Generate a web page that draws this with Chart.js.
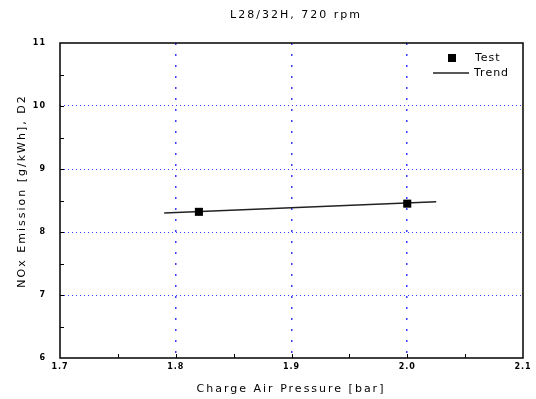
<!DOCTYPE html>
<html>
<head>
<meta charset="utf-8">
<script src="https://cdn.jsdelivr.net/npm/chart.js@4"></script>
<style>
  html, body { margin: 0; padding: 0; background: #fff; }
  #wrap { width: 536px; height: 399px; }
</style>
</head>
<body>
<div id="wrap"><canvas id="myChart" width="536" height="399"></canvas></div>
<script>
// data
var chartTitle = 'L28/32H, 720 rpm';
var xTitle = 'Charge Air Pressure [bar]';
var yTitle = 'NOx Emission [g/kWh], D2';
var testX = [1.82, 2.00];
var testY = [8.32, 8.45];
var trendX = [1.79, 2.025];
var trendY = [8.30, 8.48];
var xMin = 1.7, xMax = 2.1, xStep = 0.1, xMinor = 0.05;
var yMin = 6, yMax = 11, yStep = 1, yMinor = 0.5;

var FONT = 'DejaVu Sans';

function pts(xs, ys) {
    return xs.map(function (x, i) { return { x: x, y: ys[i] }; });
}

// frame, inner ticks, titles and legend
var decor = {
    id: 'decor',
    beforeDraw: function (chart) {
        chart.ctx.letterSpacing = '1px';
    },
    afterDraw: function (chart) {
        var ctx = chart.ctx;
        var a = chart.chartArea;
        var xs = chart.scales.x, ys = chart.scales.y;
        ctx.save();
        ctx.strokeStyle = '#000';
        ctx.lineWidth = 1;
        // inner ticks
        ctx.beginPath();
        for (var v = xMin + xMinor; v < xMax - 1e-6; v += xMinor) {
            var px = Math.round(xs.getPixelForValue(v)) + 0.5;
            ctx.moveTo(px, a.bottom);
            ctx.lineTo(px, a.bottom - 4);
        }
        for (var w = yMin + yMinor; w < yMax - 1e-6; w += yMinor) {
            var py = Math.round(ys.getPixelForValue(w)) + 0.5;
            ctx.moveTo(a.left, py);
            ctx.lineTo(a.left + 4, py);
        }
        ctx.stroke();
        // frame
        ctx.lineWidth = 1.5;
        ctx.strokeRect(a.left, a.top, a.right - a.left, a.bottom - a.top);

        ctx.fillStyle = '#000';
        ctx.textAlign = 'center';
        ctx.textBaseline = 'middle';
        ctx.letterSpacing = '2px';
        ctx.font = '11px "' + FONT + '"';
        // chart title
        ctx.fillText(chartTitle, 296, 15);
        // axis titles
        ctx.fillText(xTitle, 291, 389);
        ctx.save();
        ctx.translate(22, 191);
        ctx.rotate(-Math.PI / 2);
        ctx.fillText(yTitle, 0, 0);
        ctx.restore();

        // legend
        ctx.letterSpacing = '1px';
        ctx.textAlign = 'left';
        ctx.font = '11px "' + FONT + '"';
        ctx.fillRect(448, 54, 8, 8);
        ctx.fillText('Test', 475, 58);
        ctx.strokeStyle = '#222';
        ctx.lineWidth = 1.5;
        ctx.beginPath();
        ctx.moveTo(433, 73);
        ctx.lineTo(469, 73);
        ctx.stroke();
        ctx.fillText('Trend', 474, 73);
        ctx.restore();
    }
};

function gridColor(c) {
    if (c.index === 0 || c.index === c.chart.scales[c.scale.id].ticks.length - 1) return 'rgba(0,0,0,0)';
    return '#3a3aff';
}

var myChart = new Chart(document.getElementById('myChart'), {
    type: 'scatter',
    data: {
        datasets: [
            {
                label: 'Test',
                data: pts(testX, testY),
                showLine: false,
                pointStyle: 'rect',
                pointRadius: 5.7,
                pointBorderWidth: 0,
                backgroundColor: '#000',
                borderColor: '#000'
            },
            {
                label: 'Trend',
                data: pts(trendX, trendY),
                showLine: true,
                pointRadius: 0,
                borderColor: '#222',
                borderWidth: 1.5
            }
        ]
    },
    options: {
        responsive: false,
        animation: false,
        events: [],
        layout: { padding: { top: 43, right: 13, left: 0, bottom: 0 } },
        plugins: {
            legend: { display: false },
            tooltip: { enabled: false }
        },
        scales: {
            x: {
                type: 'linear',
                min: xMin,
                max: xMax,
                afterFit: function (s) { s.height = 41; },
                afterBuildTicks: function (s) {
                    var t = [];
                    for (var v = xMin; v <= xMax + 1e-6; v += xStep) t.push({ value: Math.round(v * 10) / 10 });
                    s.ticks = t;
                },
                ticks: {
                    color: '#000',
                    padding: 4,
                    maxRotation: 0,
                    font: { family: FONT, size: 8, weight: 'bold' },
                    callback: function (v) { return v.toFixed(1); }
                },
                grid: {
                    color: gridColor,
                    lineWidth: 1.5,
                    drawTicks: false,
                    tickLength: 0
                },
                border: { display: false, dash: [2, 9] }
            },
            y: {
                type: 'linear',
                min: yMin,
                max: yMax,
                afterFit: function (s) { s.width = 60; },
                afterBuildTicks: function (s) {
                    var t = [];
                    for (var v = yMin; v <= yMax + 1e-6; v += yStep) t.push({ value: Math.round(v) });
                    s.ticks = t;
                },
                ticks: {
                    color: '#000',
                    padding: 14,
                    font: { family: FONT, size: 8, weight: 'bold' }
                },
                grid: {
                    color: gridColor,
                    lineWidth: 1,
                    drawTicks: false,
                    tickLength: 0
                },
                border: { display: false, dash: [1, 3] }
            }
        }
    },
    plugins: [decor]
});
</script>
</body>
</html>
